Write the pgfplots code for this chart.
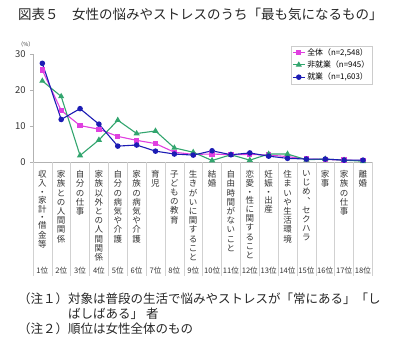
\documentclass[border=0pt]{standalone}
\usepackage{fontspec}
\setmainfont{Noto Sans CJK JP}
\usepackage{pgfplots}
\pgfplotsset{compat=1.18}
\definecolor{cpink}{RGB}{224,64,224}
\definecolor{cgreen}{RGB}{50,165,110}
\definecolor{cblue}{RGB}{28,28,180}
\begin{document}
\begin{tikzpicture}
\begin{axis}[
  at={(32.9pt,-162.3pt)}, anchor=south west,
  width=339.5pt, height=108pt, scale only axis,
  xmin=0.5, xmax=18.5, ymin=0, ymax=30,
  axis lines*=left,
  axis line style={black!30, line width=0.6pt},
  clip=false,
  /pgf/number format/assume math mode=true,
  xtick={1,...,18},
  x tick style={draw=none},
  xticklabels={
    {収\\入\\[-1pt]・\\[-1pt]家\\計\\[-1pt]・\\[-1pt]借\\金\\等},
    {家\\族\\と\\の\\人\\間\\関\\係},
    {自\\分\\の\\仕\\事},
    {家\\族\\以\\外\\と\\の\\人\\間\\関\\係},
    {自\\分\\の\\病\\気\\や\\介\\護},
    {家\\族\\の\\病\\気\\や\\介\\護},
    {育\\児},
    {子\\ど\\も\\の\\教\\育},
    {生\\き\\が\\い\\に\\関\\す\\る\\こ\\と},
    {結\\婚},
    {自\\由\\時\\間\\が\\な\\い\\こ\\と},
    {恋\\愛\\[-1pt]・\\[-1pt]性\\に\\関\\す\\る\\こ\\と},
    {妊\\娠\\[-1pt]・\\[-1pt]出\\産},
    {住\\ま\\い\\や\\生\\活\\環\\境},
    {い\\じ\\め\\︑\\セ\\ク\\ハ\\ラ},
    {家\\事},
    {家\\族\\の\\仕\\事},
    {離\\婚}},
  xticklabel style={anchor=north, align=center, inner sep=0pt, yshift=-5pt,
    font=\fontsize{8.5}{9.2}\selectfont, text=black!80},
  ytick={0,10,20,30},
  y tick style={black!30},
  major tick length=3pt, tick align=outside,
  yticklabel style={font=\fontsize{9.5}{10}\selectfont, text=black!80, inner sep=0pt, xshift=-4pt},
  legend style={at={(rel axis cs:1,1)}, anchor=north east, yshift=8.5pt,
    draw=black!20, font=\fontsize{7.9}{9}\selectfont, inner xsep=1pt, inner ysep=0.5pt,
    row sep=0pt, cells={anchor=west}},
  legend image code/.code={\draw[mark repeat=2,mark phase=2,#1] plot coordinates {(0pt,0pt) (6pt,0pt) (12pt,0pt)};},
]
\pgfplotsinvokeforeach{0.5,1.5,...,18.5}{\draw[black!18, line width=0.5pt] (axis cs:#1,0) -- ++(0pt,-114pt);}
\pgfplotsinvokeforeach{1,...,18}{\node[anchor=base, font=\fontsize{7.6}{8}\selectfont, text=black!80, inner sep=0pt] at (axis cs:#1,0) [yshift=-110.7pt] {#1位};}
\node[font=\fontsize{5.5}{6}\selectfont, text=black!80] at (rel axis cs:0,1) [xshift=-7pt, yshift=10pt] {（\%）};
\addplot[cpink, line width=1.1pt, mark=square*, mark size=2.1pt] coordinates {
(1,25.6) (2,14.4) (3,10.2) (4,9.2) (5,7.2) (6,6.1) (7,5.2) (8,2.8) (9,2.2)
(10,2.3) (11,2.1) (12,2.2) (13,2.0) (14,1.6) (15,0.9) (16,0.8) (17,0.6) (18,0.5)};
\addlegendentry{全体（n=2,548）}
\addplot[cgreen, line width=1.1pt, mark=triangle*, mark size=2.5pt] coordinates {
(1,22.6) (2,18.3) (3,1.9) (4,6.2) (5,11.7) (6,8.0) (7,8.7) (8,4.0) (9,2.8)
(10,0.5) (11,2.1) (12,0.6) (13,2.3) (14,2.3) (15,0.7) (16,0.9) (17,0.6) (18,0.3)};
\addlegendentry{非就業（n=945）}
\addplot[cblue, line width=1.1pt, mark=*, mark size=2.2pt] coordinates {
(1,27.5) (2,11.9) (3,14.9) (4,10.6) (5,4.5) (6,4.8) (7,3.1) (8,2.3) (9,2.0)
(10,3.2) (11,2.1) (12,2.6) (13,1.7) (14,1.1) (15,0.9) (16,0.9) (17,0.6) (18,0.6)};
\addlegendentry{就業（n=1,603）}
\end{axis}
\node[anchor=base west, font=\fontsize{13.5}{15}\selectfont, text=black!85, inner sep=0pt] at (18pt,-19.5pt) {図表５　女性の悩みやストレスのうち「最も気になるもの」};
\begin{scope}[every node/.style={anchor=base west, font=\fontsize{12.5}{14}\selectfont, text=black!85, inner sep=0pt}]
\node at (18pt,-303.5pt) {（注１）};
\node at (68pt,-303.5pt) {対象は普段の生活で悩みやストレスが「常にある」「し};
\node at (68pt,-318.5pt) {ばしばある」 者};
\node at (18pt,-333.5pt) {（注２）};
\node at (68pt,-333.5pt) {順位は女性全体のもの};
\end{scope}
\pgfresetboundingbox
\path (0,0) rectangle (399pt,-351pt);
\end{tikzpicture}
\end{document}
